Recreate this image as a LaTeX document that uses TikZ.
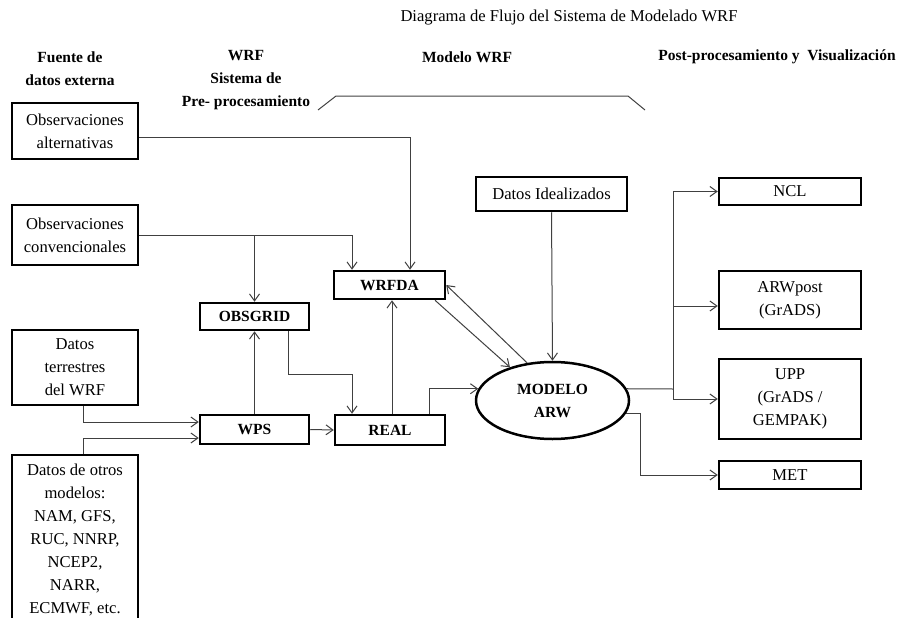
\documentclass[tikz,border=0pt]{standalone}
\usepackage{fontspec}
\setmainfont{Liberation Serif}
\usetikzlibrary{arrows.meta,shapes.geometric}
\begin{document}
\begin{tikzpicture}[x=1pt,y=-1pt,
  txt/.style={font=\fontsize{16.6}{23}\selectfont},
  hdr/.style={font=\fontsize{15.5}{23}\selectfont\bfseries,align=center,inner sep=0pt},
  box/.style={draw=black,line width=2.5pt,inner sep=0pt,align=center,txt},
  bbox/.style={box,font=\fontsize{15.5}{23}\selectfont\bfseries},
  conn/.style={draw=black!75,line width=1pt,-{Straight Barb[length=7pt,width=10pt]}},
  plain/.style={draw=black!75,line width=1pt}
]
\useasboundingbox (0,0) rectangle (899,618);
% title and headers
\node[txt,inner sep=0pt] (title) at (569,18) {Diagrama de Flujo del Sistema de Modelado WRF};
\node[hdr] (h1) at (70,68.5) {Fuente de\\datos externa};
\node[hdr] (h2) at (246,80) {WRF\\Sistema de\\Pre- procesamiento};
\node[hdr] (h3) at (467,57) {Modelo WRF};
\node[hdr] (h4) at (777,57) {Post-procesamiento y\ \ Visualización};
\draw[plain] (318,110) -- (336,96) -- (628,96) -- (645,110);
% boxes
\node[box,minimum width=126pt,minimum height=56pt] (oa) at (75,131) {Observaciones\\alternativas};
\node[box,minimum width=126pt,minimum height=60pt] (oc) at (75,235) {Observaciones\\convencionales};
\node[box,minimum width=126pt,minimum height=75pt] (dt) at (75,367.5) {Datos\\terrestres\\del WRF};
\node[box,minimum width=126pt,minimum height=170pt] (do) at (75,540) {Datos de otros\\modelos:\\NAM, GFS,\\RUC, NNRP,\\NCEP2,\\NARR,\\ECMWF, etc.};
\node[bbox,minimum width=109pt,minimum height=27pt] (obsgrid) at (254.5,316.5) {OBSGRID};
\node[bbox,minimum width=111pt,minimum height=28pt] (wrfda) at (389.5,285) {WRFDA};
\node[bbox,minimum width=109pt,minimum height=29pt] (wps) at (254.5,429.5) {WPS};
\node[bbox,minimum width=110pt,minimum height=30pt] (real) at (390,430) {REAL};
\node[box,minimum width=151pt,minimum height=34pt] (di) at (551.5,194) {Datos Idealizados};
\node[bbox,ellipse,minimum width=153pt,minimum height=77pt] (modelo) at (552.5,400.5) {MODELO\\ARW};
\node[box,minimum width=142pt,minimum height=27pt] (ncl) at (790,191.5) {NCL};
\node[box,minimum width=142pt,minimum height=58pt] (arwp) at (790,300) {ARWpost\\(GrADS)};
\node[box,minimum width=142pt,minimum height=80pt] (upp) at (790,399) {UPP\\(GrADS /\\GEMPAK)};
\node[box,minimum width=142pt,minimum height=28pt] (met) at (790,475) {MET};
% coordinates
\coordinate (c1) at (410,137);
\coordinate (c2) at (352,235);
\coordinate (c4) at (83,422);
\coordinate (c5) at (83,438);
\coordinate (c6) at (288,374);
\coordinate (c7) at (352,374);
\coordinate (c8) at (392,0);
\coordinate (c9) at (429,0);
\coordinate (cA) at (435,0);
\coordinate (cB) at (673,389);
\coordinate (cC) at (673,306);
\coordinate (cD) at (640,0);
% connectors
\draw[conn] (oa.east |- c1) -- (c1) -- (c1 |- wrfda.north);
\draw[conn] (oc.east |- c2) -- (c2) -- (c2 |- wrfda.north);
\draw[conn] (obsgrid.north |- c2) -- (obsgrid.north);
\draw[conn] (dt.south -| c4) -- (c4) -- (c4 -| wps.west);
\draw[conn] (do.north -| c5) -- (c5) -- (c5 -| wps.west);
\draw[conn] (wps.north) -- (obsgrid.south);
\draw[conn] (obsgrid.south -| c6) -- (c6) -- (c7) -- (c7 |- real.north);
\draw[conn] (wps.east) -- (real.west);
\draw[conn] (real.north -| c8) -- (wrfda.south -| c8);
\draw[conn] (real.north -| c9) |- (modelo.171);
\draw[conn] (wrfda.south -| cA) -- (modelo.142);
\draw[conn] (modelo.124) -- (wrfda.east);
\draw[conn] (di.south) -- (modelo.north);
\draw[plain] (modelo.9) -- (cB);
\draw[conn] (cB) |- (ncl.west);
\draw[conn] (cC) -- (cC -| arwp.west);
\draw[conn] (cB) |- (upp.west);
\draw[conn] (modelo.350) -| (cD |- met.west) -- (met.west);
\end{tikzpicture}
\end{document}
